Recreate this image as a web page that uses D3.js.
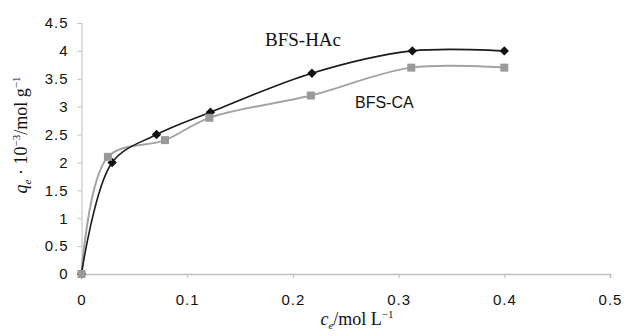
<!DOCTYPE html>
<html>
<head>
<meta charset="utf-8">
<script src="https://cdn.jsdelivr.net/npm/d3@7"></script>
<style>
  html, body { margin: 0; padding: 0; background: #fff; }
  svg { display: block; }
</style>
</head>
<body>
<div id="chart"></div>
<script>
// data
const xTicks = [0, 0.1, 0.2, 0.3, 0.4, 0.5];
const yTicks = [0, 0.5, 1, 1.5, 2, 2.5, 3, 3.5, 4, 4.5];

const hacX = [0, 0.029, 0.071, 0.122, 0.218, 0.313, 0.4];
const hacY = [0, 2.0, 2.5, 2.9, 3.6, 4.0, 4.0];
const caX = [0, 0.025, 0.079, 0.121, 0.217, 0.312, 0.4];
const caY = [0, 2.1, 2.4, 2.8, 3.2, 3.7, 3.7];

const seriesNames = ["BFS-HAc", "BFS-CA"];

var width = 626, height = 336;

var svg = d3.select("#chart")
  .append("svg")
  .attr("width", width)
  .attr("height", height);

var x = d3.scaleLinear().domain([0, 0.5]).range([81.5, 610]);
var y = d3.scaleLinear().domain([0, 4.5]).range([274, 23]);

var axisColor = "#bdbdbd";

// y axis
var yAxis = svg.append("g")
  .attr("transform", "translate(" + x(0) + ",0)")
  .call(d3.axisLeft(y).tickValues(yTicks).tickSize(4).tickPadding(9)
    .tickFormat(d => String(d)));
yAxis.selectAll("path, line").attr("stroke", axisColor);
yAxis.selectAll("text")
  .style("font-family", "'Liberation Sans', Arial, sans-serif")
  .style("font-size", "15px")
  .style("letter-spacing", "1px")
  .attr("fill", "#111");

// x axis
var xAxis = svg.append("g")
  .attr("transform", "translate(0," + y(0) + ")")
  .call(d3.axisBottom(x).tickValues(xTicks).tickSize(4).tickPadding(16)
    .tickFormat(d => String(d)));
xAxis.selectAll("path").attr("stroke", axisColor).attr("stroke-width", 1.5);
xAxis.selectAll("line").attr("stroke", axisColor);
xAxis.selectAll("text")
  .style("font-family", "'Liberation Sans', Arial, sans-serif")
  .style("font-size", "15px")
  .style("letter-spacing", "1px")
  .attr("fill", "#111");

var line = d3.line()
  .x(d => x(d[0]))
  .y(d => y(d[1]))
  .curve(d3.curveCatmullRom.alpha(0.5));

var caPts = d3.zip(caX, caY);
var hacPts = d3.zip(hacX, hacY);

// BFS-CA, gray squares
svg.append("path")
  .datum(caPts)
  .attr("fill", "none")
  .attr("stroke", "#a3a3a3")
  .attr("stroke-width", 2)
  .attr("d", line);

// BFS-HAc, black diamonds
svg.append("path")
  .datum(hacPts)
  .attr("fill", "none")
  .attr("stroke", "#1a1a1a")
  .attr("stroke-width", 1.6)
  .attr("d", line);

svg.append("g").selectAll("path")
  .data(hacPts)
  .enter()
  .append("path")
  .attr("d", d => {
    var cx = x(d[0]), cy = y(d[1]), r = 4.7;
    return "M" + cx + "," + (cy - r) + "L" + (cx + r) + "," + cy +
      "L" + cx + "," + (cy + r) + "L" + (cx - r) + "," + cy + "Z";
  })
  .attr("fill", "#111");

svg.append("g").selectAll("rect")
  .data(caPts)
  .enter()
  .append("rect")
  .attr("x", d => x(d[0]) - 4)
  .attr("y", d => y(d[1]) - 4)
  .attr("width", 8)
  .attr("height", 8)
  .attr("fill", "#999");

// series labels
svg.append("text")
  .attr("x", 265)
  .attr("y", 46)
  .style("font-family", "'Liberation Serif', 'Times New Roman', serif")
  .style("font-size", "19px")
  .attr("fill", "#111")
  .text(seriesNames[0]);

svg.append("text")
  .attr("x", 355)
  .attr("y", 108)
  .style("font-family", "'Liberation Sans', Arial, sans-serif")
  .style("font-size", "16px")
  .attr("fill", "#111")
  .text(seriesNames[1]);

// axis titles
var xt = svg.append("text")
  .attr("x", 357)
  .attr("y", 325)
  .attr("text-anchor", "middle")
  .style("font-family", "'Liberation Serif', 'Times New Roman', serif")
  .style("font-size", "18px")
  .attr("fill", "#111");
xt.append("tspan").style("font-style", "italic").text("c");
xt.append("tspan").attr("dy", 4).style("font-size", "11px").style("font-style", "italic").text("e");
xt.append("tspan").attr("dy", -4).text("/mol L");
xt.append("tspan").attr("dy", -7).style("font-size", "11px").text("\u22121");

var yt = svg.append("text")
  .attr("transform", "translate(27,135) rotate(-90)")
  .attr("text-anchor", "middle")
  .style("font-family", "'Liberation Serif', 'Times New Roman', serif")
  .style("font-size", "18px")
  .attr("fill", "#111");
yt.append("tspan").style("font-style", "italic").text("q");
yt.append("tspan").attr("dy", 4).style("font-size", "11px").style("font-style", "italic").text("e");
yt.append("tspan").attr("dy", -4).text(" \u00b7 10");
yt.append("tspan").attr("dy", -7).style("font-size", "11px").text("\u22123");
yt.append("tspan").attr("dy", 7).text("/mol g");
yt.append("tspan").attr("dy", -7).style("font-size", "11px").text("\u22121");
</script>
</body>
</html>
